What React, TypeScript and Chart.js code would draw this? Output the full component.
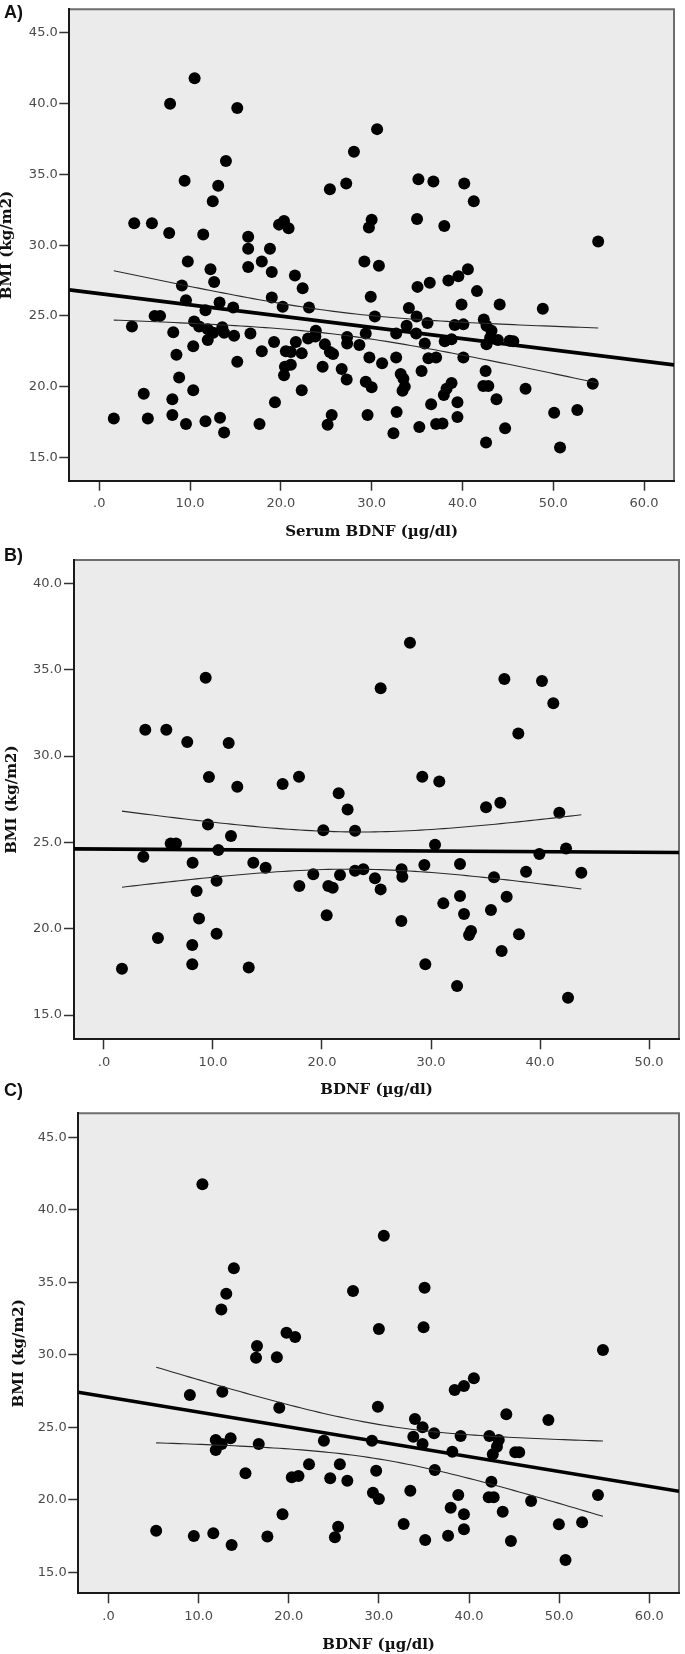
import React, { useEffect, useRef } from "react";
import { Chart, registerables } from "chart.js";

Chart.register(...registerables);

// ---------------- DATA ----------------
// Panel A: all subjects (Serum BDNF vs BMI)
const A_BDNF = [
  10.5, 7.8, 15.2, 13.95, 9.4, 13.1, 12.5, 25.4, 27.2, 28.05,
  30.6, 3.85, 5.8, 7.7, 11.45, 16.4, 16.4, 18.8, 19.8, 20.35,
  20.85, 9.75, 12.25, 12.65, 16.4, 17.9, 19.0, 21.55, 22.4, 9.1,
  9.55, 13.25, 14.75, 11.7, 19.0, 20.2, 23.1, 6.1, 6.7, 3.6,
  8.15, 10.45, 11.0, 11.95, 12.55, 11.95, 13.55, 13.75, 14.85, 16.65,
  8.5, 10.35, 8.8, 4.9, 8.05, 10.35, 1.6, 5.35, 8.05, 9.55,
  11.7, 13.3, 13.75, 15.2, 17.65, 17.9, 19.25, 19.35, 20.55, 21.1,
  20.45, 21.1, 20.35, 21.65, 22.3, 22.3, 23.0, 23.85, 23.8, 24.85,
  25.4, 25.75, 24.6, 26.7, 27.25, 27.3, 27.3, 25.6, 25.15,
  35.05, 36.4, 38.45, 39.55, 40.6, 41.6, 29.9, 39.9, 44.1, 48.85,
  30.35, 34.1, 34.95, 36.15, 33.85, 32.7, 34.9, 29.35, 28.65,
  35.85, 38.05, 38.8, 39.15, 40.1, 42.35, 42.65, 43.2, 43.05, 42.65, 43.9, 45.2, 45.6,
  29.75, 31.15, 32.7, 36.25, 37.1, 40.1, 35.5, 33.2, 33.5, 33.65, 33.4, 29.35, 30.0,
  42.55, 42.3, 42.85, 38.8, 38.25, 37.95, 46.95, 54.35, 43.75, 36.55, 39.45, 39.45,
  29.55, 32.75, 35.25, 37.1, 37.8, 32.4, 44.7, 42.6, 50.1, 52.65, 50.75,
  35.15, 36.8, 40.2, 41.25, 30.0, 29.7, 35.0, 38.0, 54.95, 29.2, 30.8,
];
const A_BMI = [
  41.8, 40.0, 39.7, 35.95, 34.55, 34.2, 33.1, 33.95, 34.35, 36.6,
  38.2, 31.55, 31.55, 30.85, 30.75, 30.6, 29.75, 29.75, 31.45, 31.7,
  31.2, 28.85, 28.3, 27.4, 28.45, 28.85, 28.1, 27.85, 26.95, 27.15,
  26.1, 25.95, 25.6, 25.4, 26.3, 25.65, 25.6, 25.0, 25.0, 24.25,
  23.85, 24.6, 24.25, 24.05, 23.8, 23.3, 24.2, 23.8, 23.6, 23.75,
  22.25, 22.85, 20.65, 19.5, 19.1, 19.75, 17.75, 17.75, 18.0, 17.35,
  17.55, 17.8, 16.75, 21.75, 17.35, 22.5, 23.15, 18.9, 22.5, 22.45,
  21.4, 21.55, 20.8, 23.15, 22.35, 19.75, 23.4, 23.95, 23.55, 23.0,
  22.45, 22.3, 21.4, 21.25, 20.5, 23.5, 23.05, 18.0, 17.3,
  27.05, 27.35, 27.5, 27.8, 28.3, 26.75, 26.35, 25.8, 25.8, 25.5,
  24.95, 25.55, 24.95, 24.5, 24.3, 23.75, 23.75, 23.75, 22.95,
  23.05, 23.2, 23.35, 24.35, 24.4, 24.75, 24.3, 23.95, 23.45, 23.0, 23.3, 23.25, 23.2,
  22.05, 21.65, 22.05, 22.0, 22.05, 22.05, 21.1, 20.9, 20.55, 20.0, 19.7, 20.35, 19.95,
  21.1, 20.05, 20.05, 20.25, 19.85, 19.4, 19.85, 20.2, 19.1, 18.75, 18.9, 17.85,
  18.0, 18.2, 17.15, 17.35, 17.4, 16.7, 17.05, 16.05, 18.15, 18.35, 15.7,
  34.65, 34.5, 34.35, 33.1, 31.8, 31.25, 31.85, 31.35, 30.25, 28.85, 28.55,
];

// Panel B
const B_BDNF = [
  9.33, 3.79, 5.72, 7.64, 11.44, 9.63, 12.23, 16.39, 17.89, 21.53, 22.35, 9.54, 20.12,
  28.07, 25.38, 36.73, 40.18, 41.22, 38.01, 29.2, 30.76, 35.05, 36.36, 41.77, 23.03,
  11.65, 6.12, 6.61, 3.61, 10.49, 8.13, 13.7, 14.83, 10.33, 8.5, 17.92, 19.2,
  20.58, 20.98, 21.65, 8.72, 20.43, 4.95, 10.33, 8.1, 8.1, 1.65, 13.28,
  30.37, 39.94, 42.39, 23.03, 23.79, 24.86, 25.38, 27.3, 27.37, 29.39, 32.66, 35.78, 38.72, 43.79,
  31.13, 32.66, 33.03, 35.5, 36.94, 27.28, 33.67, 33.49, 38.07, 36.48, 29.48, 32.39, 42.57,
];
const B_BMI = [
  34.53, 31.52, 31.52, 30.81, 30.75, 28.78, 28.22, 28.38, 28.8, 27.84, 26.9, 26.04, 25.71,
  36.56, 33.92, 34.46, 34.34, 33.05, 31.31, 28.8, 28.53, 27.03, 27.3, 26.72, 25.68,
  25.37, 24.94, 24.94, 24.17, 24.56, 23.82, 23.82, 23.53, 22.78, 22.18, 22.47, 23.15,
  22.47, 22.37, 23.11, 20.6, 20.78, 19.46, 19.71, 19.06, 17.94, 17.68, 17.76,
  24.87, 24.33, 24.64, 23.36, 23.44, 22.92, 22.28, 23.44, 23.01, 23.69, 23.75, 22.98, 23.3, 23.24,
  21.47, 21.89, 20.85, 21.08, 21.85, 20.45, 19.87, 19.64, 19.68, 18.71, 17.94, 16.68, 16.0,
];

// Panel C
const C_BDNF = [
  10.42, 13.91, 13.07, 12.52, 16.48, 16.37, 18.68, 19.75, 20.71,
  30.55, 27.13, 35.07, 30.0, 34.96, 54.86,
  9.03, 12.63, 18.95, 11.9, 12.56, 11.9, 13.55, 16.67, 23.9, 15.2, 20.34, 21.08,
  22.25, 24.6, 25.67, 26.5, 19.31, 5.29, 9.47, 11.63, 13.66, 17.63, 25.48, 25.12,
  40.54, 39.44, 38.41, 29.89, 44.14, 48.81, 34.0, 34.85, 36.13, 33.82, 34.85, 29.23, 39.07, 42.26, 43.3,
  43.1, 42.64, 38.15, 45.13, 45.57, 29.7, 36.2, 42.48, 33.49, 29.34, 30.0, 38.81, 42.19, 42.74, 46.89,
  54.31, 37.97, 39.44, 43.74, 32.75, 39.44, 37.68, 35.14, 44.65, 49.97, 52.55, 50.71,
];
const C_BMI = [
  41.76, 35.97, 34.21, 33.13, 30.61, 29.8, 29.83, 31.52, 31.23,
  38.21, 34.4, 34.63, 31.78, 31.9, 30.33,
  27.23, 27.46, 26.35, 24.12, 23.85, 23.43, 24.24, 23.85, 24.08, 21.83, 21.55, 21.64,
  22.45, 21.48, 22.45, 21.32, 19.0, 17.87, 17.5, 17.69, 16.88, 17.46, 18.14, 17.41,
  28.38, 27.85, 27.57, 26.42, 25.9, 25.5, 25.57, 25.0, 24.59, 24.35, 23.85, 24.08, 24.4, 24.4, 24.12,
  23.66, 23.14, 23.32, 23.28, 23.28, 22.01, 22.05, 21.25, 20.63, 20.49, 20.06, 20.33, 20.17, 20.17, 19.92,
  20.33, 19.45, 19.0, 19.18, 18.33, 17.97, 17.52, 17.23, 17.16, 18.31, 18.45, 15.85,
];

// Tick values and labels
const X_TICKS_WIDE = [0, 10, 20, 30, 40, 50, 60];
const X_TICKS_NARROW = [0, 10, 20, 30, 40, 50];
const Y_TICKS_WIDE = [15, 20, 25, 30, 35, 40, 45];
const Y_TICKS_NARROW = [15, 20, 25, 30, 35, 40];

const PANEL_LABELS = ["A)", "B)", "C)"];
const X_TITLES = ["Serum BDNF (µg/dl)", "BDNF (µg/dl)", "BDNF (µg/dl)"];
const Y_TITLE = "BMI (kg/m2)";

// ---------------- HELPERS ----------------
function tCrit(df: number) {
  const z = 1.959964;
  return (
    z +
    (z ** 3 + z) / (4 * df) +
    (5 * z ** 5 + 16 * z ** 3 + 3 * z) / (96 * df * df)
  );
}

function fitModel(xs: number[], ys: number[]) {
  const n = xs.length;
  const mx = xs.reduce((s, v) => s + v, 0) / n;
  const my = ys.reduce((s, v) => s + v, 0) / n;
  let sxx = 0;
  let sxy = 0;
  for (let i = 0; i < n; i++) {
    sxx += (xs[i] - mx) ** 2;
    sxy += (xs[i] - mx) * (ys[i] - my);
  }
  const b = sxy / sxx;
  const a = my - b * mx;
  let sse = 0;
  for (let i = 0; i < n; i++) sse += (ys[i] - a - b * xs[i]) ** 2;
  const s = Math.sqrt(sse / (n - 2));
  const t = tCrit(n - 2);
  return { a, b, n, mx, sxx, s, t };
}

type Spec = {
  xs: number[];
  ys: number[];
  xTicks: number[];
  yTicks: number[];
  xTitle: string;
  top: number;
  height: number;
  plotLeft: number;
  plotTop: number;
  plotRight: number;
  xAxisH: number;
  xMin: number;
  xMax: number;
  yMin: number;
  yMax: number;
  xTickPad: number;
  yTickPad: number;
  xTitlePadBottom: number;
  yTitlePad: number;
};

const framePlugin = {
  id: "spssFrame",
  beforeDraw(chart: any) {
    const { ctx, chartArea } = chart;
    const { left, top, right, bottom } = chartArea;
    ctx.save();
    ctx.fillStyle = "#ebebeb";
    ctx.fillRect(left, top, right - left, bottom - top);
    ctx.strokeStyle = "#6e6e6e";
    ctx.lineWidth = 2;
    ctx.beginPath();
    ctx.moveTo(left, top);
    ctx.lineTo(right, top);
    ctx.lineTo(right, bottom);
    ctx.stroke();
    ctx.restore();
  },
};

function Panel({ spec }: { spec: Spec }) {
  const ref = useRef<HTMLCanvasElement | null>(null);

  useEffect(() => {
    if (!ref.current) return;
    const m = fitModel(spec.xs, spec.ys);
    const points = spec.xs.map((x, i) => ({ x, y: spec.ys[i] }));
    const fitLine = [
      { x: spec.xMin, y: m.a + m.b * spec.xMin },
      { x: spec.xMax, y: m.a + m.b * spec.xMax },
    ];
    const lo = Math.min(...spec.xs);
    const hi = Math.max(...spec.xs);
    const upper: { x: number; y: number }[] = [];
    const lower: { x: number; y: number }[] = [];
    const steps = 80;
    for (let k = 0; k <= steps; k++) {
      const x = lo + ((hi - lo) * k) / steps;
      const yh = m.a + m.b * x;
      const se = m.s * Math.sqrt(1 / m.n + (x - m.mx) ** 2 / m.sxx);
      upper.push({ x, y: yh + m.t * se });
      lower.push({ x, y: yh - m.t * se });
    }

    const tickFont = { family: "'DejaVu Sans', sans-serif", size: 13, lineHeight: 1.2 };
    const titleFontX = { family: "'DejaVu Serif', serif", size: 15, weight: "bold" as const, lineHeight: 1.2 };
    const titleFontY = { family: "'DejaVu Serif', serif", size: 15, weight: "bold" as const, lineHeight: 1 };

    const chart = new Chart(ref.current, {
      type: "scatter",
      data: {
        datasets: [
          {
            data: fitLine,
            showLine: true,
            borderColor: "#000",
            borderWidth: 3.6,
            pointRadius: 0,
          },
          {
            data: upper,
            showLine: true,
            borderColor: "#2a2a2a",
            borderWidth: 1.1,
            pointRadius: 0,
          },
          {
            data: lower,
            showLine: true,
            borderColor: "#2a2a2a",
            borderWidth: 1.1,
            pointRadius: 0,
          },
          {
            data: points,
            backgroundColor: "#000",
            borderColor: "#000",
            pointRadius: 6,
            pointBorderWidth: 0,
          },
        ],
      },
      options: {
        animation: false,
        responsive: false,
        maintainAspectRatio: false,
        events: [],
        layout: {
          padding: {
            left: 0,
            top: spec.plotTop,
            right: 685 - spec.plotRight,
            bottom: 0,
          },
        },
        plugins: {
          legend: { display: false },
          tooltip: { enabled: false },
        },
        scales: {
          x: {
            type: "linear",
            min: spec.xMin,
            max: spec.xMax,
            afterBuildTicks: (s: any) => {
              s.ticks = spec.xTicks.map((v) => ({ value: v }));
            },
            afterFit: (s: any) => {
              s.height = spec.xAxisH;
            },
            ticks: {
              autoSkip: false,
              maxRotation: 0,
              font: tickFont,
              color: "#4a4a4a",
              padding: spec.xTickPad,
              callback: (v: any) => (Number(v) === 0 ? ".0" : Number(v).toFixed(1)),
            },
            grid: {
              drawOnChartArea: false,
              drawTicks: true,
              tickLength: 10,
              tickWidth: 1.5,
              tickColor: "#333",
            },
            border: { display: true, color: "#1a1a1a", width: 2 },
            title: {
              display: true,
              text: spec.xTitle,
              font: titleFontX,
              color: "#111",
              padding: { top: 0, bottom: spec.xTitlePadBottom },
            },
          },
          y: {
            type: "linear",
            min: spec.yMin,
            max: spec.yMax,
            afterBuildTicks: (s: any) => {
              s.ticks = spec.yTicks.map((v) => ({ value: v }));
            },
            afterFit: (s: any) => {
              s.width = spec.plotLeft;
            },
            ticks: {
              autoSkip: false,
              font: tickFont,
              color: "#4a4a4a",
              padding: spec.yTickPad,
              callback: (v: any) => Number(v).toFixed(1),
            },
            grid: {
              drawOnChartArea: false,
              drawTicks: true,
              tickLength: 10,
              tickWidth: 1.5,
              tickColor: "#333",
            },
            border: { display: true, color: "#1a1a1a", width: 2 },
            title: {
              display: true,
              text: Y_TITLE,
              font: titleFontY,
              color: "#111",
              padding: { top: spec.yTitlePad, bottom: 0 },
            },
          },
        },
      } as any,
      plugins: [framePlugin],
    });
    return () => chart.destroy();
  }, [spec]);

  return (
    <canvas
      ref={ref}
      width={685}
      height={spec.height}
      style={{ position: "absolute", left: 0, top: spec.top, width: 685, height: spec.height }}
    />
  );
}

const SPECS: Spec[] = [
  {
    xs: A_BDNF, ys: A_BMI, xTicks: X_TICKS_WIDE, yTicks: Y_TICKS_WIDE, xTitle: X_TITLES[0],
    top: 0, height: 545, plotLeft: 69.3, plotTop: 1, plotRight: 674, xAxisH: 64.3,
    xMin: -3.3, xMax: 63.3, yMin: 13.35, yMax: 46.67,
    xTickPad: 4.8, yTickPad: 1.5, xTitlePadBottom: 4.3, yTitlePad: 0,
  },
  {
    xs: B_BDNF, ys: B_BMI, xTicks: X_TICKS_NARROW, yTicks: Y_TICKS_NARROW, xTitle: X_TITLES[1],
    top: 545, height: 555, plotLeft: 74, plotTop: 15, plotRight: 679, xAxisH: 60.7,
    xMin: -2.75, xMax: 52.75, yMin: 13.6, yMax: 41.35,
    xTickPad: 6, yTickPad: 2, xTitlePadBottom: 1, yTitlePad: 5,
  },
  {
    xs: C_BDNF, ys: C_BMI, xTicks: X_TICKS_WIDE, yTicks: Y_TICKS_WIDE, xTitle: X_TITLES[2],
    top: 1100, height: 554, plotLeft: 78.3, plotTop: 13.3, plotRight: 683.3, xAxisH: 60.7,
    xMin: -3.35, xMax: 63.3, yMin: 13.55, yMax: 46.66,
    xTickPad: 5.6, yTickPad: 1.6, xTitlePadBottom: 0, yTitlePad: 11.5,
  },
];

const LABEL_TOPS = [3, 546, 1081];

export default function App() {
  return (
    <div
      style={{
        position: "absolute",
        left: 0,
        top: 0,
        width: 685,
        height: 1654,
        background: "#fff",
        overflow: "hidden",
      }}
    >
      {SPECS.map((s, i) => (
        <Panel key={i} spec={s} />
      ))}
      {PANEL_LABELS.map((t, i) => (
        <div
          key={t}
          style={{
            position: "absolute",
            left: 4,
            top: LABEL_TOPS[i],
            fontFamily: "'Liberation Sans', Arial, sans-serif",
            fontWeight: "bold",
            fontSize: 18,
            lineHeight: "18px",
            color: "#111",
          }}
        >
          {t}
        </div>
      ))}
    </div>
  );
}
